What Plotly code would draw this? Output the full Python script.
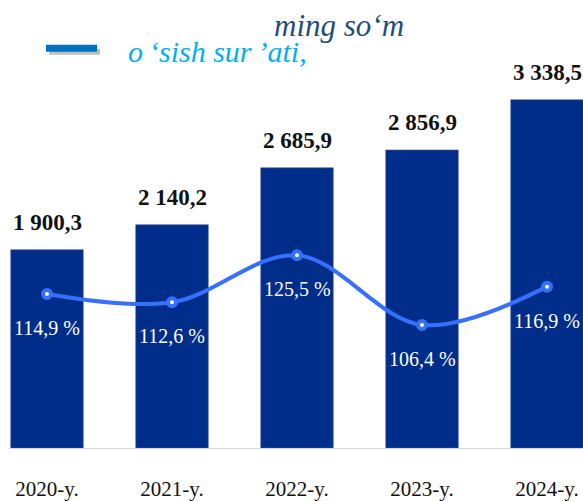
import plotly.graph_objects as go

# data
years = ["2020-y.", "2021-y.", "2022-y.", "2023-y.", "2024-y."]
volume = [1900.3, 2140.2, 2685.9, 2856.9, 3338.5]
growth = [114.9, 112.6, 125.5, 106.4, 116.9]

BAR_COLOR = "#002D8A"
LINE_COLOR = "#3570FF"
SERIF = "Liberation Serif, Times New Roman, serif"


def fmt_num(v):
    # 3338.5 -> "3 338,5"
    return f"{v:,.1f}".replace(",", " ").replace(".", ",")


fig = go.Figure()

fig.add_trace(go.Bar(
    x=years, y=volume,
    marker=dict(color=BAR_COLOR, line=dict(color="#3B56A6", width=0.6)),
    width=0.58,
    hoverinfo="skip",
))

fig.add_trace(go.Scatter(
    x=years, y=growth, yaxis="y2",
    mode="lines+markers",
    line=dict(color=LINE_COLOR, width=4, shape="spline", smoothing=1.0),
    marker=dict(color="white", size=8, line=dict(color=LINE_COLOR, width=4)),
    hoverinfo="skip",
))

annotations = []
# bar value labels
for yr, v in zip(years, volume):
    annotations.append(dict(
        x=yr, y=v, xref="x", yref="y", text=f"<b>{fmt_num(v)}</b>",
        showarrow=False, yanchor="bottom", yshift=13,
        font=dict(family=SERIF, size=23, color="#111111"),
    ))
# growth labels below points
for yr, g in zip(years, growth):
    annotations.append(dict(
        x=yr, y=g, xref="x", yref="y2", text=f"{g:.1f} %".replace(".", ","),
        showarrow=False, yanchor="middle", yshift=-34,
        font=dict(family=SERIF, size=20, color="white"),
    ))

# legend-ish header texts
annotations.append(dict(
    x=(272 - 9) / 574, y=1 - 26 / 451, xref="paper", yref="paper",
    text="<i>ming so‘m</i>", showarrow=False, xanchor="left", yanchor="middle",
    font=dict(family=SERIF, size=31, color="#1F4E79"),
))
annotations.append(dict(
    x=(126 - 9) / 574, y=1 - 52 / 451, xref="paper", yref="paper",
    text="<i>o\u2009‘sish sur\u2009’ati,</i>", showarrow=False, xanchor="left", yanchor="middle",
    font=dict(family=SERIF, size=30, color="#00B0F0"),
))

shapes = [
    # legend sample: shadow then blue bar
    dict(type="rect", xref="paper", yref="paper",
         x0=(49 - 9) / 574, x1=(100 - 9) / 574, y0=1 - 55 / 451, y1=1 - 49 / 451,
         fillcolor="#BFBFBF", line=dict(width=0)),
    dict(type="rect", xref="paper", yref="paper",
         x0=(46 - 9) / 574, x1=(97 - 9) / 574, y0=1 - 52 / 451, y1=1 - 45 / 451,
         fillcolor="#0070C0", line=dict(width=0)),
]

fig.update_layout(
    width=583, height=501,
    margin=dict(l=9, r=0, t=0, b=50),
    paper_bgcolor="white", plot_bgcolor="white",
    showlegend=False,
    xaxis=dict(
        range=[-0.304, 4.288],
        showline=True, linecolor="#D9D9D9", linewidth=1,
        ticks="", showgrid=False,
        tickfont=dict(family=SERIF, size=21, color="#111111"),
        ticklabelstandoff=22,
    ),
    yaxis=dict(range=[0, 4295], visible=False, showgrid=False),
    yaxis2=dict(range=[72.6, 195.6], overlaying="y", visible=False, showgrid=False),
    annotations=annotations,
    shapes=shapes,
)

# drop the default page margin so the figure sits at the window's top-left
fig.write_html("out.html", config={"displayModeBar": False},
               post_script="document.body.style.margin='0';")
